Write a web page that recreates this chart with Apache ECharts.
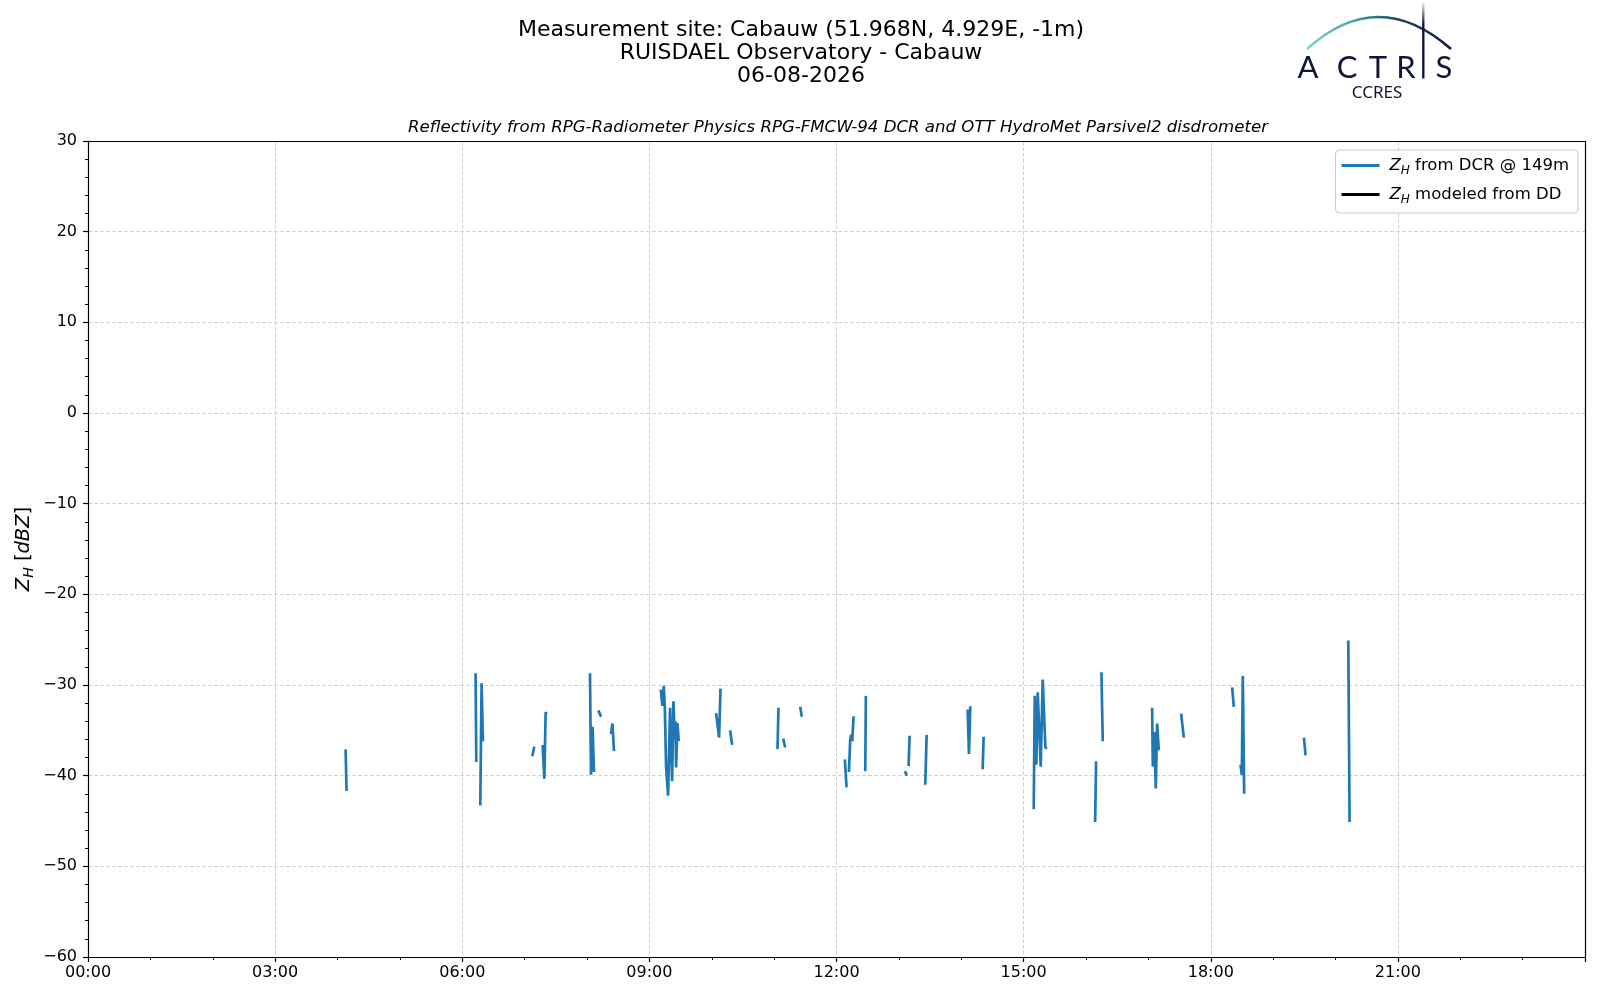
<!DOCTYPE html>
<html lang="en">
<head>
    <meta charset="UTF-8">
    <script src="https://cdn.jsdelivr.net/npm/echarts@6/dist/echarts.min.js"></script>
    <title>Cabauw - reflectivity</title>
    <style>
        html, body {
            margin: 0;
            padding: 0;
            background: #fff;
        }

        #main {
            width: 1600px;
            height: 1000px;
        }
    </style>
</head>

<body>
<div id="main"></div>
<script type="text/javascript">
    // time in decimal hours (UTC), null = gap between stretches of radar data
    var dcrTime = [
        4.130, 4.145, null,
        6.214, 6.225, null,
        6.289, 6.310, 6.332, null,
        7.123, 7.155, null,
        7.289, 7.316, 7.337, 7.354, null,
        8.048, 8.064, 8.090, 8.112, null,
        8.182, 8.225, null,
        8.385, 8.407, 8.433, null,
        9.182, 9.209, 9.231, 9.247, 9.268, 9.300, 9.332, 9.364, 9.386, 9.407, 9.418, 9.428, 9.450, 9.471, null,
        10.070, 10.118, 10.140, null,
        10.295, 10.327, null,
        11.054, 11.070, null,
        11.145, 11.177, null,
        11.418, 11.444, null,
        12.134, 12.161, null,
        12.199, 12.220, 12.236, 12.252, 12.274, null,
        12.461, 12.471, null,
        13.097, 13.129, null,
        13.156, 13.172, null,
        13.423, 13.445, null,
        14.102, 14.124, 14.145, null,
        14.343, 14.359, null,
        15.162, 15.178, 15.204, 15.226, 15.274, 15.306, 15.349, 15.375, null,
        16.146, 16.162, null,
        16.247, 16.269, null,
        17.060, 17.071, 17.092, 17.119, 17.140, 17.167, null,
        17.525, 17.568, null,
        18.343, 18.370, null,
        18.477, 18.498, 18.514, 18.536, null,
        19.494, 19.520, null,
        20.205, 20.226
    ];
    // reflectivity from the cloud radar at 149 m [dBZ]
    var dcrZh = [
        -37.1, -41.7, null,
        -28.7, -38.5, null,
        -43.3, -29.8, -36.2, null,
        -37.85, -36.8, null,
        -36.6, -40.35, -33.0, -33.2, null,
        -28.7, -39.9, -34.6, -39.6, null,
        -32.8, -33.5, null,
        -35.4, -34.25, -37.3, null,
        -30.5, -32.3, -30.1, -32.3, -39.0, -42.2, -32.5, -40.6, -31.8, -36.0, -34.0, -39.1, -34.2, -36.2, null,
        -33.1, -35.8, -30.4, null,
        -35.0, -36.6, null,
        -37.05, -32.5, null,
        -35.9, -36.9, null,
        -32.4, -33.5, null,
        -38.2, -41.3, null,
        -39.6, -36.0, -35.5, -36.2, -33.45, null,
        -39.5, -31.2, null,
        -39.5, -40.0, null,
        -38.95, -35.6, null,
        -41.0, -35.5, null,
        -32.7, -37.6, -32.35, null,
        -39.3, -35.7, null,
        -43.7, -31.2, -38.8, -30.8, -39.0, -29.4, -36.9, -37.0, null,
        -45.1, -38.4, null,
        -28.6, -36.2, null,
        -32.5, -39.0, -35.2, -41.4, -34.25, -37.2, null,
        -33.15, -35.8, null,
        -30.25, -32.4, null,
        -38.8, -39.9, -29.0, -42.0, null,
        -35.8, -37.75, null,
        -25.1, -45.1
    ];
    // no disdrometer-modelled reflectivity this day
    var ddTime = [];
    var ddZh = [];

    var xTicks = [0, 3, 6, 9, 12, 15, 18, 21];

    function pairUp(times, values) {
        var out = [];
        for (var i = 0; i < times.length; i++) {
            if (times[i] === null || values[i] === null) {
                out.push(['-', '-']);
            } else {
                out.push([times[i], values[i]]);
            }
        }
        return out;
    }

    function hourLabel(v) {
        if (xTicks.indexOf(v) < 0) {
            return '';
        }
        return (v < 10 ? '0' : '') + v + ':00';
    }

    var font = 'DejaVu Sans';
    var myChart = echarts.init(document.getElementById('main'));

    var logoArc = new echarts.graphic.LinearGradient(0, 0, 1, 0, [
        {offset: 0, color: '#8ad2cc'},
        {offset: 0.35, color: '#3f9ea5'},
        {offset: 0.6, color: '#1b4a68'},
        {offset: 1, color: '#10163a'}
    ]);
    var logoMast = new echarts.graphic.LinearGradient(0, 0, 0, 1, [
        {offset: 0, color: 'rgba(16,22,58,0)'},
        {offset: 0.3, color: '#10163a'},
        {offset: 1, color: '#10163a'}
    ]);

    function logoLetter(ch, x) {
        return {
            type: 'text',
            x: x,
            y: 68,
            style: {
                text: ch,
                fill: '#10163a',
                font: '31px Lato',
                align: 'center',
                verticalAlign: 'middle'
            }
        };
    }

    var option = {
        animation: false,
        backgroundColor: '#fff',
        title: [
            {
                text: 'Measurement site: Cabauw (51.968N, 4.929E, -1m)\nRUISDAEL Observatory - Cabauw\n06-08-2026',
                left: 801,
                top: 19,
                padding: 0,
                textAlign: 'center',
                textStyle: {
                    fontFamily: font,
                    fontSize: 22,
                    lineHeight: 23,
                    fontWeight: 'normal',
                    color: '#000'
                }
            },
            {
                text: 'Reflectivity from RPG-Radiometer Physics RPG-FMCW-94 DCR and OTT HydroMet Parsivel2 disdrometer',
                left: 838,
                top: 119,
                padding: 0,
                textAlign: 'center',
                textStyle: {
                    fontFamily: font,
                    fontSize: 16.6,
                    fontStyle: 'italic',
                    fontWeight: 'normal',
                    color: '#000'
                }
            }
        ],
        legend: {
            orient: 'vertical',
            right: 22,
            top: 150,
            padding: [7, 9, 7, 6],
            itemGap: 9,
            itemWidth: 38,
            itemHeight: 3,
            icon: 'rect',
            borderColor: '#cccccc',
            borderWidth: 1,
            borderRadius: 4,
            backgroundColor: 'rgba(255,255,255,0.8)',
            data: ['ZH from DCR @ 149m', 'ZH modeled from DD'],
            formatter: function (name) {
                return '{g|}{z|Z}{s|H}{t|' + name.slice(2) + '}';
            },
            textStyle: {
                fontFamily: font,
                fontSize: 16.5,
                color: '#000',
                rich: {
                    g: {width: 5, lineHeight: 23},
                    z: {fontFamily: font, fontSize: 16.5, fontStyle: 'italic', lineHeight: 23},
                    s: {fontFamily: font, fontSize: 12, fontStyle: 'italic', lineHeight: 13, verticalAlign: 'bottom'},
                    t: {fontFamily: font, fontSize: 16.5, lineHeight: 23}
                }
            }
        },
        grid: {
            left: 88,
            right: 15,
            top: 141,
            bottom: 43,
            show: false
        },
        xAxis: [
            {
                type: 'value',
                min: 0,
                max: 24,
                interval: 3,
                axisLine: {onZero: false, lineStyle: {color: '#000', width: 1.2}},
                axisTick: {length: 5, lineStyle: {color: '#000', width: 1.2}},
                minorTick: {show: true, splitNumber: 3, length: 3, lineStyle: {color: '#000', width: 1}},
                axisLabel: {
                    margin: 8,
                    color: '#000',
                    fontFamily: font,
                    fontSize: 16,
                    formatter: hourLabel
                },
                splitLine: {
                    show: true,
                    showMinLine: false,
                    showMaxLine: false,
                    lineStyle: {color: '#d3d3d3', width: 1, type: [4, 2]}
                }
            },
            {
                // top frame line
                type: 'value',
                position: 'top',
                min: 0,
                max: 24,
                interval: 3,
                axisLine: {show: true, onZero: false, lineStyle: {color: '#000', width: 1.2}},
                axisTick: {show: false},
                axisLabel: {show: false},
                splitLine: {show: false}
            }
        ],
        yAxis: [
            {
                type: 'value',
                min: -60,
                max: 30,
                interval: 10,
                name: '{z|Z}{s|H}{t| [}{z|dBZ}{t|]}',
                nameLocation: 'middle',
                nameRotate: 90,
                nameGap: 52,
                nameMoveOverlap: false,
                nameTextStyle: {
                    fontFamily: font,
                    fontSize: 19.5,
                    color: '#000',
                    rich: {
                        z: {fontFamily: font, fontSize: 19.5, fontStyle: 'italic', lineHeight: 24},
                        s: {fontFamily: font, fontSize: 14, fontStyle: 'italic', lineHeight: 14, verticalAlign: 'bottom'},
                        t: {fontFamily: font, fontSize: 19.5, lineHeight: 24}
                    }
                },
                axisLine: {show: true, onZero: false, lineStyle: {color: '#000', width: 1.2}},
                axisTick: {show: true, length: 5, lineStyle: {color: '#000', width: 1.2}},
                minorTick: {show: true, splitNumber: 5, length: 3, lineStyle: {color: '#000', width: 1}},
                axisLabel: {
                    margin: 11,
                    color: '#000',
                    fontFamily: font,
                    fontSize: 16,
                    formatter: function (v) {
                        return String(v).replace('-', '\u2212');
                    }
                },
                splitLine: {
                    show: true,
                    showMinLine: false,
                    showMaxLine: false,
                    lineStyle: {color: '#d3d3d3', width: 1, type: [4, 2]}
                }
            },
            {
                // right frame line
                type: 'value',
                position: 'right',
                min: -60,
                max: 30,
                interval: 10,
                axisLine: {show: true, onZero: false, lineStyle: {color: '#000', width: 1.2}},
                axisTick: {show: false},
                axisLabel: {show: false},
                splitLine: {show: false}
            }
        ],
        series: [
            {
                name: 'ZH from DCR @ 149m',
                type: 'line',
                data: pairUp(dcrTime, dcrZh),
                showSymbol: false,
                symbol: 'none',
                connectNulls: false,
                color: '#1f77b4',
                lineStyle: {color: '#1f77b4', width: 2.7}
            },
            {
                name: 'ZH modeled from DD',
                type: 'line',
                data: pairUp(ddTime, ddZh),
                showSymbol: false,
                symbol: 'none',
                color: '#000',
                lineStyle: {color: '#000', width: 2.7}
            }
        ],
        graphic: [
            {
                type: 'bezierCurve',
                shape: {x1: 1307, y1: 49, x2: 1451, y2: 49, cpx1: 1378, cpy1: -15},
                style: {stroke: logoArc, lineWidth: 2.6, fill: null}
            },
            {
                type: 'line',
                shape: {x1: 1423.3, y1: 3, x2: 1423.3, y2: 78.5},
                style: {stroke: logoMast, lineWidth: 2.4}
            },
            logoLetter('A', 1308),
            logoLetter('C', 1347),
            logoLetter('T', 1378),
            logoLetter('R', 1406),
            logoLetter('S', 1444),
            {
                type: 'text',
                x: 1377,
                y: 93,
                style: {
                    text: 'CCRES',
                    fill: '#10163a',
                    font: '17px "Noto Sans"',
                    align: 'center',
                    verticalAlign: 'middle'
                }
            }
        ]
    };

    myChart.setOption(option);
</script>
</body>

</html>
